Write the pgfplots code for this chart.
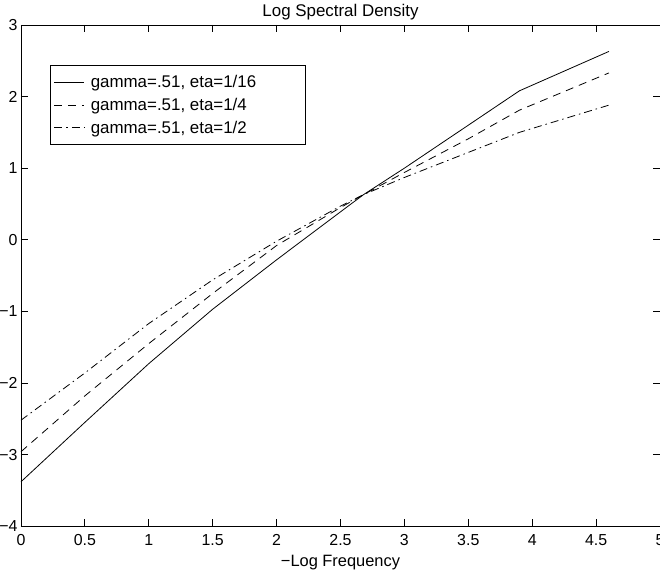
\documentclass[border=0pt]{standalone}
\usepackage{fontspec}
\setmainfont{Liberation Sans}
\usepackage{pgfplots}
\pgfplotsset{compat=1.18}
\begin{document}
\begin{tikzpicture}
\begin{axis}[
  scale only axis, width=640bp, height=502bp,
  xmin=0, xmax=5, ymin=-4, ymax=3,
  xtick={0,0.5,1,1.5,2,2.5,3,3.5,4,4.5,5},
  xticklabels={0,0.5,1,1.5,2,2.5,3,3.5,4,4.5,5},
  ytick={-4,-3,-2,-1,0,1,2,3},
  yticklabels={−4,−3,−2,−1,0,1,2,3},
  tick align=inside, major tick length=7bp,
  every tick/.style={black, line width=0.8bp},
  axis line style={black, line width=0.8bp},
  ticklabel style={font=\fontsize{16}{19}\selectfont},
  xticklabel style={yshift=-4.5bp},
  title={Log Spectral Density},
  title style={font=\fontsize{17}{20}\selectfont, yshift=-5bp},
  xlabel={−Log Frequency},
  xlabel style={font=\fontsize{16.5}{19}\selectfont, yshift=-3bp},
  legend style={at={(0.045,0.92)}, anchor=north west,
    font=\fontsize{17}{20}\selectfont, draw=black, line width=0.6bp,
    inner xsep=4bp, inner ysep=8bp, row sep=5bp},
  legend cell align=left,
  legend image code/.code={\draw[#1] (0bp,0bp) -- (30bp,0bp); \path (34bp,0bp);},
]
\addplot[black, line width=0.8bp] coordinates {
(0,-3.38) (0.5,-2.55) (1,-1.73) (1.5,-0.97) (2,-0.28) (2.5,0.39)
(2.68,0.63) (3,1.0) (3.5,1.6) (3.9,2.08) (4.6,2.63)};
\addlegendentry{gamma=.51, eta=1/16\rule{43bp}{0bp}}
\addplot[black, line width=0.8bp, dash pattern=on 8bp off 6bp] coordinates {
(0,-2.96) (0.5,-2.18) (1,-1.45) (1.5,-0.75) (2,-0.08) (2.5,0.45)
(2.68,0.63) (3,0.94) (3.5,1.41) (3.9,1.81) (4.6,2.33)};
\addlegendentry{gamma=.51, eta=1/4}
\addplot[black, line width=0.8bp, dash pattern=on 8bp off 4bp on 1.5bp off 4bp] coordinates {
(0,-2.52) (0.5,-1.86) (1,-1.17) (1.5,-0.56) (2,-0.02) (2.5,0.47)
(2.68,0.63) (3,0.87) (3.5,1.22) (3.9,1.50) (4.6,1.88)};
\addlegendentry{gamma=.51, eta=1/2}
\end{axis}
\pgfresetboundingbox
\path[use as bounding box] ([xshift=-21bp,yshift=-46bp]current axis.south west) rectangle ([yshift=25bp]current axis.north east);
\end{tikzpicture}
\end{document}
